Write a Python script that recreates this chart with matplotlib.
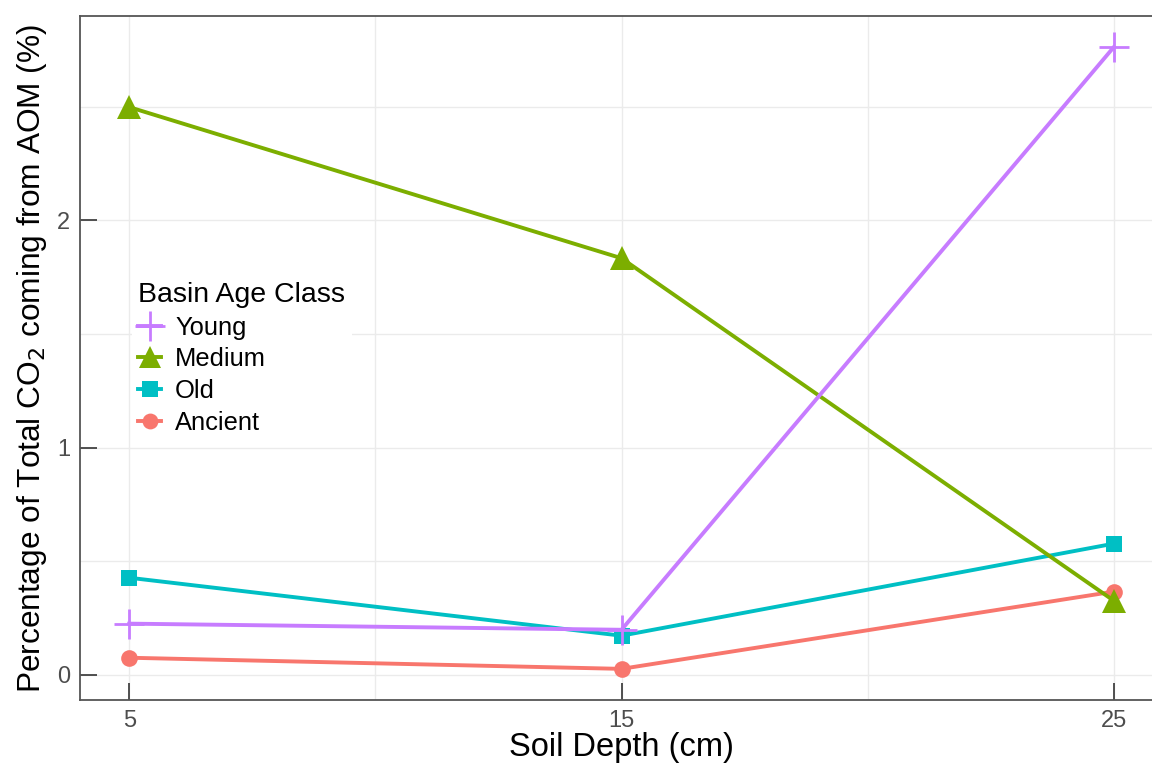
import matplotlib
matplotlib.use("Agg")
import matplotlib.pyplot as plt
from matplotlib.ticker import MultipleLocator

plt.rcParams['font.family'] = ['Liberation Sans', 'DejaVu Sans']

# soil depth (cm) and % of total CO2 from AOM per basin age class
depth = [5, 15, 25]
young = [0.225, 0.198, 2.762]
medium = [2.498, 1.833, 0.326]
old = [0.427, 0.172, 0.577]
ancient = [0.075, 0.026, 0.366]

classes = ['Young', 'Medium', 'Old', 'Ancient']
colors = ['#C77CFF', '#7CAE00', '#00BFC4', '#F8766D']
markers = ['+', '^', 's', 'o']
msizes = [22, 17, 12, 12]
series = [young, medium, old, ancient]

fig = plt.figure(figsize=(11.52, 7.67), dpi=100)
ax = fig.add_axes([80/1152, 67/767, 1083/1152, 684/767])

handles = {}
# draw Ancient first so Young ends up on top
for i in [3, 2, 1, 0]:
    ln, = ax.plot(depth, series[i], color=colors[i], lw=2.8, marker=markers[i],
                  ms=msizes[i], mew=2.0 if markers[i] == '+' else 0,
                  mfc=colors[i], mec=colors[i], label=classes[i], zorder=3 + (3 - i))
    handles[classes[i]] = ln

ax.set_xlim(4, 26)
ax.set_ylim(-0.111, 2.899)
ax.set_xticks(depth)
ax.xaxis.set_minor_locator(MultipleLocator(5))
ax.yaxis.set_major_locator(MultipleLocator(1))
ax.yaxis.set_minor_locator(MultipleLocator(0.5))
ax.grid(which='both', color='#ebebeb', lw=1.0, zorder=0)
ax.set_axisbelow(True)

ax.tick_params(which='major', direction='in', length=12, width=1.2, color='#333333',
               labelsize=17, labelcolor='#4d4d4d', pad=7)
ax.tick_params(which='minor', length=0)
for s in ax.spines.values():
    s.set_color('#555555')
    s.set_linewidth(1.3)

ax.set_xlabel('Soil Depth (cm)', fontsize=23.5, labelpad=0)
ax.set_ylabel('Percentage of Total CO$_2$ coming from AOM (%)', fontsize=22.8, labelpad=6)

leg = ax.legend([handles[c] for c in classes], classes, title='Basin Age Class',
                loc='upper left', bbox_to_anchor=(0.036, 0.639), frameon=True,
                fontsize=18.4, title_fontsize=20.5, handlelength=0.9, handletextpad=0.55,
                labelspacing=0.3, borderpad=0.25, markerscale=0.95)
leg.get_frame().set_edgecolor('none')
leg.get_frame().set_facecolor('white')
leg.get_frame().set_alpha(1)
leg._legend_box.align = 'left'

fig.savefig('out.png', dpi=100)
